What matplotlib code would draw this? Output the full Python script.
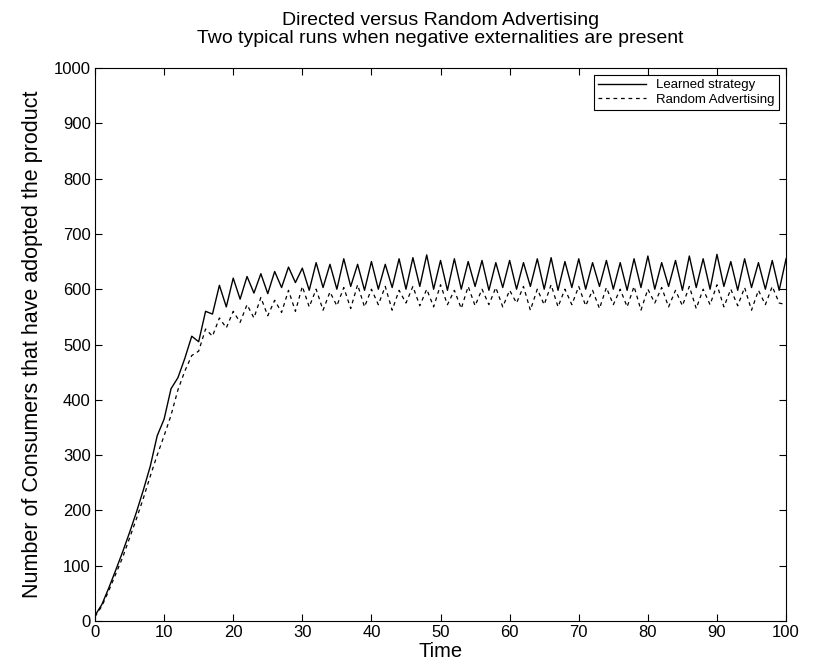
"""Directed vs random advertising: two typical runs."""

import numpy as np
import matplotlib
matplotlib.use("Agg")
import matplotlib.pyplot as plt

plt.rcParams["font.family"] = ["Liberation Sans", "DejaVu Sans"]

time = np.arange(0, 101)

learned = [
    10, 30, 60, 92, 125, 160, 197, 237, 280, 335, 365, 420, 440, 475, 515, 505, 560, 555,
    607, 568, 620, 582, 623, 593, 628, 592, 632, 603, 640, 612,
    638, 598, 648, 603, 645, 600, 655, 605, 645, 598,
    650, 600, 645, 603, 655, 600, 657, 605, 662, 600,
    652, 598, 655, 600, 650, 605, 652, 598, 648, 603,
    652, 600, 648, 605, 655, 600, 657, 598, 650, 603,
    655, 600, 648, 605, 652, 600, 648, 598, 655, 603,
    660, 600, 648, 605, 652, 598, 660, 603, 655, 600,
    663, 605, 650, 598, 655, 603, 648, 600, 652, 598,
    655,
]

random_adv = [
    8, 27, 55, 85, 115, 150, 185, 222, 262, 300, 335, 372, 418, 452, 480, 488, 528, 515,
    548, 530, 560, 540, 572, 548, 585, 552, 580, 558, 598, 560,
    605, 568, 600, 562, 595, 570, 603, 565, 608, 568,
    600, 572, 605, 562, 598, 575, 605, 570, 600, 568,
    608, 572, 598, 565, 605, 570, 600, 572, 603, 568,
    598, 575, 605, 562, 600, 572, 608, 568, 600, 572,
    605, 570, 598, 565, 603, 572, 600, 568, 605, 562,
    600, 575, 603, 568, 598, 570, 605, 565, 600, 572,
    608, 568, 600, 570, 603, 562, 598, 572, 605, 575,
    572,
]

fig = plt.figure(figsize=(8.14, 6.69), dpi=100)
ax = fig.add_axes([0.1167, 0.0717, 0.849, 0.8267])

ax.plot(time, learned, color="black", linewidth=1.0, label="Learned strategy")
ax.plot(time, random_adv, color="black", linewidth=0.9, linestyle=(0, (3, 3)),
        label="Random Advertising")

ax.set_xlim(0, 100)
ax.set_ylim(0, 1000)
ax.set_xticks(np.arange(0, 101, 10))
ax.set_yticks(np.arange(0, 1001, 100))
ax.tick_params(direction="in", top=True, right=True, labelsize=12, length=5, pad=3)
for spine in ax.spines.values():
    spine.set_linewidth(0.8)

ax.set_xlabel("Time", fontsize=14.5, labelpad=1)
ax.set_ylabel("Number of Consumers that have adopted the product", fontsize=15.5,
              labelpad=8)
ax.set_title("Directed versus Random Advertising\n"
             "Two typical runs when negative externalities are present",
             fontsize=14, pad=18, linespacing=1.1)

leg = ax.legend(loc="upper right", fontsize=9.5, fancybox=False, framealpha=1,
                edgecolor="black", handlelength=3.6, borderaxespad=0.5,
                labelspacing=0.15, borderpad=0.35, handletextpad=0.8)
leg.get_frame().set_linewidth(0.8)

fig.savefig("out.png", dpi=100)
